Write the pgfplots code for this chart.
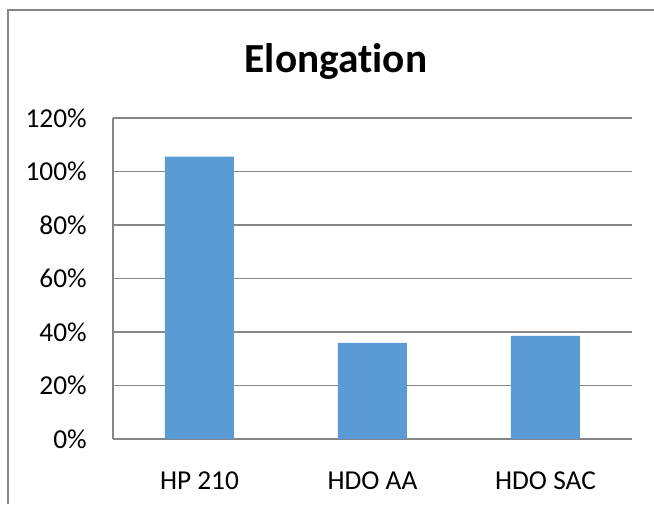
\documentclass[border=0pt]{standalone}
\usepackage{pgfplots}
\pgfplotsset{compat=1.18}
\usepackage{fontspec}
\setmainfont[Ligatures=NoCommon]{Carlito}
\definecolor{barblue}{HTML}{5B9BD5}
\definecolor{gridgray}{HTML}{868686}

\begin{document}
\begin{tikzpicture}
% page: 654x504 px at 0.75pt per px, plot area lower left at (0,0)
\useasboundingbox (-84.75pt,-48.75pt) rectangle (405.75pt,329.25pt);
\begin{axis}[
  scale only axis,
  width=389.25pt, height=240.6pt,
  xmin=-0.5, xmax=2.5,
  ymin=0, ymax=120,
  xtick={0,1,2},
  xticklabels={HP 210, HDO AA, HDO SAC},
  ytick={0,20,40,60,80,100,120},
  yticklabels={0\%,20\%,40\%,60\%,80\%,100\%,120\%},
  major tick length=0pt,
  axis lines*=left,
  axis line style={gridgray, line width=1.2pt},
  ymajorgrids,
  major grid style={gridgray, line width=1.2pt},
  ticklabel style={font=\fontsize{20.5}{24}\selectfont, inner sep=0pt},
  yticklabel style={anchor=east, xshift=-19.5pt},
  xticklabel style={anchor=base, yshift=-37.5pt},
  ybar, bar width=51.75pt,
]
\addplot[fill=barblue, draw=none] coordinates {(0,105.6) (1,36.0) (2,38.6)};
\end{axis}
\draw[gridgray, line width=1.5pt] (-78.4pt,-48.75pt) -- (-78.4pt,321.75pt) -- (405.75pt,321.75pt);
\node[anchor=base, inner sep=0pt, font=\fontsize{31}{36}\selectfont\bfseries] at (167.25pt,274.7pt) {Elongation};
\end{tikzpicture}
\end{document}
